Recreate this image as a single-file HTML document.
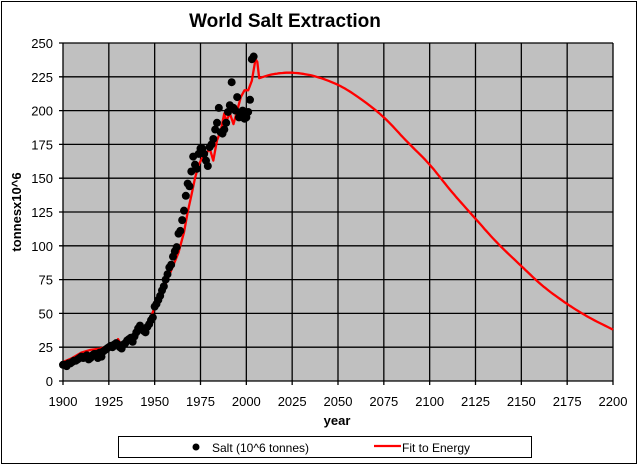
<!DOCTYPE html>
<html><head><style>
body{margin:0;background:#fff;}
svg text{font-family:"Liberation Sans",Arial,sans-serif;}
</style></head><body>
<svg id="s" width="639" height="466" xmlns="http://www.w3.org/2000/svg">
<rect x="1.5" y="1.5" width="635" height="462" fill="#fff" stroke="#000" stroke-width="1"/>
<text x="285" y="27" font-size="19" font-weight="bold" text-anchor="middle">World Salt Extraction</text>
<rect x="63" y="43" width="550" height="338" fill="#c0c0c0"/>
<g id="grid" stroke="#000" stroke-width="1.3"></g>
<g id="lab" font-size="13"></g>
<text x="337" y="425" font-size="13" font-weight="bold" text-anchor="middle">year</text>
<text transform="translate(21,212) rotate(-90)" font-size="13" font-weight="bold" text-anchor="middle">tonnesx10^6</text>
<polyline id="fit" fill="none" stroke="#ff0000" stroke-width="2.3" stroke-linejoin="round"/>
<g id="pts" fill="#000"></g>
<rect x="118.5" y="436.5" width="413" height="21" fill="#fff" stroke="#000"/>
<circle cx="196" cy="447" r="3.5" fill="#000"/>
<text x="212" y="452" font-size="12">Salt (10^6 tonnes)</text>
<line x1="374" y1="446" x2="401" y2="446" stroke="#f00" stroke-width="2.3"/>
<text x="402" y="452" font-size="12">Fit to Energy</text>
</svg>
<script>
const X=y=>63+(y-1900)*550/300, Y=v=>381-v*338/250;
let g='',l='';
for(let i=0;i<=12;i++){let x=X(1900+25*i);g+=`<line x1="${x}" y1="43" x2="${x}" y2="385"/>`;l+=`<text x="${x}" y="406" text-anchor="middle">${1900+25*i}</text>`;}
for(let i=0;i<=10;i++){let y=Y(25*i);g+=`<line x1="59" y1="${y}" x2="613" y2="${y}"/>`;l+=`<text x="53" y="${y+5}" text-anchor="end">${25*i}</text>`;}
document.getElementById('grid').innerHTML=g;document.getElementById('lab').innerHTML=l;
const F=[[1900,14],[1905,17],[1910,21],[1915,23],[1920,24],[1925,26],[1928,27],[1930,31],[1932,26],[1935,30],[1938,33],[1940,38],[1942,37],[1945,40],[1948,47],[1950,55],[1953,62],[1956,72],[1960,85],[1963,95],[1966,110],[1968,125],[1970,137],[1972,150],[1974,160],[1976,165],[1978,168],[1980,172],[1982,163],[1984,178],[1986,185],[1988,198],[1989,192],[1991,198],[1993,190],[1995,200],[1997,210],[1999,215],[2001,215],[2003,222],[2005,238],[2006,236],[2007,224]];
const T=[[2007,224],[2015,227],[2025,228],[2037,225.5],[2050,219],[2062,209],[2075,195],[2087,178],[2100,160],[2112,140],[2125,120],[2137,102],[2150,85],[2162,70],[2175,57],[2187,47],[2200,38]];
let pts=F.slice(0,-1).map(p=>[X(p[0]),Y(p[1])]);
for(let i=0;i<T.length-1;i++){const p0=T[Math.max(0,i-1)],p1=T[i],p2=T[i+1],p3=T[Math.min(T.length-1,i+2)];
for(let t=0;t<1;t+=0.1){const t2=t*t,t3=t2*t;const c=(a,b,c_,d)=>0.5*(2*b+(-a+c_)*t+(2*a-5*b+4*c_-d)*t2+(-a+3*b-3*c_+d)*t3);
pts.push([X(c(p0[0],p1[0],p2[0],p3[0])),Y(c(p0[1],p1[1],p2[1],p3[1]))]);}}
pts.push([X(2200),Y(38)]);
document.getElementById('fit').setAttribute('points',pts.map(p=>p[0].toFixed(1)+','+p[1].toFixed(1)).join(' '));
const D=[[1900,12],[1901,12],[1902,11],[1903,13],[1904,13],[1905,14],[1906,15],[1907,15],[1908,16],[1909,17],[1910,18],[1911,17],[1912,18],[1913,19],[1914,16],[1915,17],[1916,19],[1917,20],[1918,20],[1919,17],[1920,21],[1921,18],[1922,22],[1923,23],[1924,24],[1925,25],[1926,26],[1927,25],[1928,27],[1929,28],[1930,27],[1931,25],[1932,24],[1933,27],[1934,28],[1935,30],[1936,31],[1937,32],[1938,29],[1939,33],[1940,36],[1941,39],[1942,41],[1943,38],[1944,37],[1945,36],[1946,40],[1947,42],[1948,45],[1949,47],[1950,55],[1951,57],[1952,60],[1953,63],[1954,67],[1955,70],[1956,75],[1957,79],[1958,84],[1959,86],[1960,92],[1961,96],[1962,99],[1963,109],[1964,111],[1965,119],[1966,126],[1967,137],[1968,146],[1969,144],[1970,155],[1971,166],[1972,160],[1973,157],[1974,168],[1975,172],[1976,172],[1977,168],[1978,163],[1979,159],[1980,173],[1981,175],[1982,179],[1983,186],[1984,191],[1985,202],[1986,184],[1987,183],[1988,186],[1989,191],[1990,199],[1991,204],[1992,221],[1993,202],[1994,200],[1995,210],[1996,195],[1997,198],[1998,200],[1999,194],[2000,195],[2001,199],[2002,208],[2003,238],[2004,240]];
document.getElementById('pts').innerHTML=D.map(p=>`<circle cx="${X(p[0])}" cy="${Y(p[1])}" r="4"/>`).join('');
</script>
</body></html>
